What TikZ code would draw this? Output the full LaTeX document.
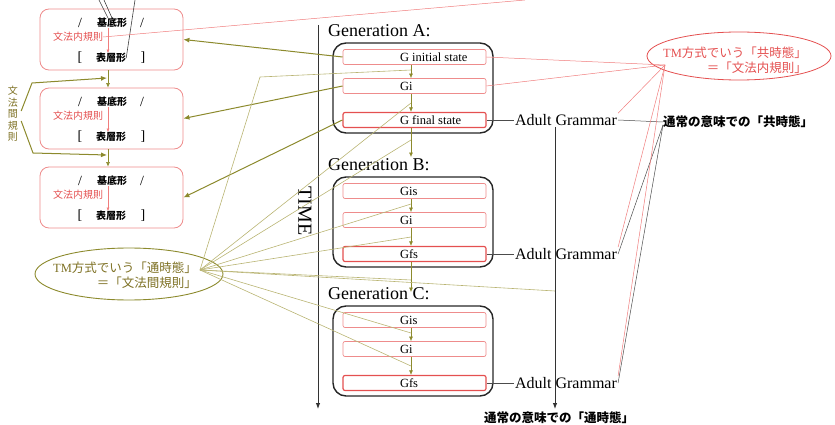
\documentclass[tikz,border=0pt]{standalone}
\usepackage{fontspec}
\setmainfont{Liberation Serif}
\newfontfamily\jp{Noto Sans CJK JP}
\usetikzlibrary{calc,positioning,arrows.meta}

\definecolor{olv}{RGB}{140,138,45}
\definecolor{olvl}{RGB}{185,180,115}
\definecolor{olvt}{RGB}{125,112,35}
\definecolor{rd}{RGB}{228,80,80}
\definecolor{pk}{RGB}{238,140,140}
\definecolor{rl}{RGB}{240,125,125}

\tikzset{
  lbox/.style={rectangle,rounded corners=9pt,draw=pk,line width=0.8pt,minimum width=143pt,minimum height=61pt,inner sep=0pt},
  gbox/.style={rectangle,rounded corners=13pt,draw=black!85,line width=1.4pt,minimum width=160pt,minimum height=90pt,inner sep=0pt},
  sbox/.style={rectangle,rounded corners=2pt,draw=pk,line width=0.7pt,minimum width=143pt,minimum height=15pt,inner sep=0pt,font=\fontsize{12.5}{13}\selectfont},
  fbox/.style={sbox,draw=rd,line width=1.2pt},
  gtitle/.style={anchor=west,inner sep=0pt,font=\fontsize{18}{20}\selectfont},
  agr/.style={inner sep=1pt,font=\fontsize{16}{18}\selectfont},
  sym/.style={inner sep=0pt,font=\fontsize{14}{15}\selectfont},
  kj/.style={inner sep=0pt,font=\jp\bfseries\fontsize{10}{11}\selectfont},
  rj/.style={inner sep=0pt,text=rd,font=\jp\fontsize{10}{11}\selectfont},
  jlab/.style={inner sep=0pt,font=\jp\bfseries\fontsize{12.5}{14}\selectfont},
  oarr/.style={olv,line width=0.6pt,-{Latex[length=4.5pt,width=4pt]}},
  oarr2/.style={olv,line width=1pt,-{Latex[length=6pt,width=5pt]}},
  oline/.style={olvl,line width=0.6pt},
  rline/.style={rl,line width=0.5pt},
  gline/.style={black!70,line width=0.5pt},
  tarr/.style={black!80,line width=0.9pt,-{Latex[length=6pt,width=4.5pt]}}
}
\newcommand{\gl}[1]{\makebox[143pt][l]{\hspace*{57pt}#1}}

\begin{document}
\begin{tikzpicture}[x=1pt,y=-1pt]
\useasboundingbox (0,0) rectangle (835,425);

% left side: grammar boxes
\foreach \i/\t in {1/9,2/88,3/167}{
  \node[lbox] (l\i) at (111.5,\t+30.5) {};
  \node[sym] (sa\i) at (80,\t+14) {/};
  \node[kj] (ki\i) at (112,\t+14) {基底形};
  \node[sym] (sb\i) at (142,\t+14) {/};
  \node[rj] (bn\i) at (78,\t+28) {文法内規則};
  \node[sym] (sc\i) at (80,\t+49) {[};
  \node[kj] (hy\i) at (111,\t+49) {表層形};
  \node[sym] (sd\i) at (143,\t+49) {]};
  \draw[rline,-{Latex[length=3.5pt,width=3pt]}] ([xshift=-4pt]ki\i.south) -- ([xshift=-3pt]hy\i.north);
}
\draw[oarr] ([xshift=-3.5pt]l1.south) -- ([xshift=-3.5pt]l2.north);
\draw[oarr] ([xshift=-3.5pt]l2.south) -- ([xshift=-3.5pt]l3.north);

\node[inner sep=0pt,text=olvt,align=center,font=\jp\fontsize{10}{11.6}\selectfont] (bk) at (13,114) {文\\法\\間\\規\\則};
\coordinate (bu) at (32,83);
\coordinate (bd) at (33,153);
\coordinate (lm1) at (107,78);
\coordinate (lm2) at (107,155);
\draw[oarr2] ([xshift=3pt,yshift=3pt]bk.east) -- (bu) -- (lm1);
\draw[oarr2] ([xshift=3pt,yshift=-7pt]bk.east) -- (bd) -- (lm2);

% lines coming in from above
\coordinate (k0) at (99,0);
\coordinate (k1) at (104,0);
\coordinate (k2) at (135,0);
\coordinate (rt) at (525,0);
\draw[black!75,line width=0.6pt] (k0) -- ([xshift=-4pt]ki1.north);
\draw[black!75,line width=0.6pt] (k1) -- (ki1.north);
\draw[black!75,line width=0.6pt] (k2) -- (hy1.east);
\draw[rline] (bn1.east) -- (rt);

% time axis
\coordinate (t0) at (318,25);
\coordinate (t1) at (318,409);
\draw[tarr] (t0) -- (t1);
\node[rotate=-90,inner sep=0pt,font=\fontsize{20}{22}\selectfont] (tm) at (305,211) {TIME};

% generations
\foreach \n/\t/\p/\q in {A/43/G initial state/G final state,B/177/Gis/Gfs,C/306/Gis/Gfs}{
  \node[gbox] (g\n) at (413,\t+45) {};
  \node[gtitle] (tt\n) at (328,\t-12) {Generation \n:};
  \node[sbox] (\n1) at (414.5,\t+14) {\gl{\p}};
  \node[sbox] (\n2) at (414.5,\t+43) {\gl{Gi}};
  \node[fbox] (\n3) at (414.5,\t+77) {\gl{\q}};
  \draw[oarr] ([xshift=-3.5pt]\n1.south) -- ([xshift=-3.5pt]\n2.north);
  \draw[oarr] ([xshift=-3.5pt]\n2.south) -- ([xshift=-3.5pt]\n3.north);
  \coordinate (m1\n) at (411,\t+27);
  \coordinate (m2\n) at (411,\t+60);
  \node[agr] (ag\n) at (566,\t+77) {Adult Grammar};
  \draw[gline] (\n3.east) -- (ag\n.west);
}
\coordinate (AB) at (411,157);
\coordinate (BC) at (411,292);
\draw[oarr] ([xshift=-3.5pt]A3.south) -- (AB);
\draw[oarr] ([xshift=-3.5pt]B3.south) -- (BC);

% arrows back to the grammar boxes
\draw[oarr2] (A1.west) -- (l1.east);
\draw[oarr2] (A2.west) -- (l2.east);
\draw[oarr2] (A3.west) -- (l3.east);

% diachronic axis
\coordinate (ts) at (555,409);
\draw[tarr] ([xshift=-11pt]agA.south) -- (ts);
\node[jlab] (tsl) at (559,418) {通常の意味での「通時態」};

% synchronic label
\node[jlab,anchor=west] (kj) at (663,122) {通常の意味での「共時態」};
\draw[gline] (agA.east) -- (kj.west);
\draw[gline] (agB.east) -- ([yshift=-3pt]kj.west);
\draw[gline] (agC.east) -- ([yshift=-3pt]kj.west);

% red ellipse
\node[inner sep=0pt,align=right,text=rd,font=\fontsize{12.5}{15}\selectfont] (re) at (735,60) {TM{\jp 方式でいう「共時態」}\\{\jp ＝「文法内規則」}};
\draw[rd,line width=0.8pt] ([xshift=4pt,yshift=4pt]re.center) ellipse (92pt and 24pt);
\coordinate (rc) at (665,65);
\draw[rline] (rc) -- (A1.east);
\draw[rline] (rc) -- (A2.east);
\draw[rline] (rc) -- (agA.north east);
\draw[rline] (rc) -- (agB.north east);
\draw[rline] (rc) -- (agC.north east);

% olive ellipse
\node[inner sep=0pt,align=right,text=olvt,font=\fontsize{12.5}{15}\selectfont] (oe) at (125,275.5) {TM{\jp 方式でいう「通時態」}\\{\jp ＝「文法間規則」}};
\draw[olv,line width=0.9pt] ([xshift=4pt,yshift=1.5pt]oe.center) ellipse (94pt and 26pt);
\coordinate (oc) at (200,270);
\coordinate (ob) at (260,77);
\coordinate (ABm) at (411,140);
\coordinate (BCm) at (411,280);
\coordinate (vt) at (555,291);
\draw[oline] (oc) -- (ob) -- (m1A);
\foreach \p in {m2A,ABm,m1B,m2B,BCm,vt,m1C,m2C}
  \draw[oline] (oc) -- (\p);

\end{tikzpicture}
\end{document}
